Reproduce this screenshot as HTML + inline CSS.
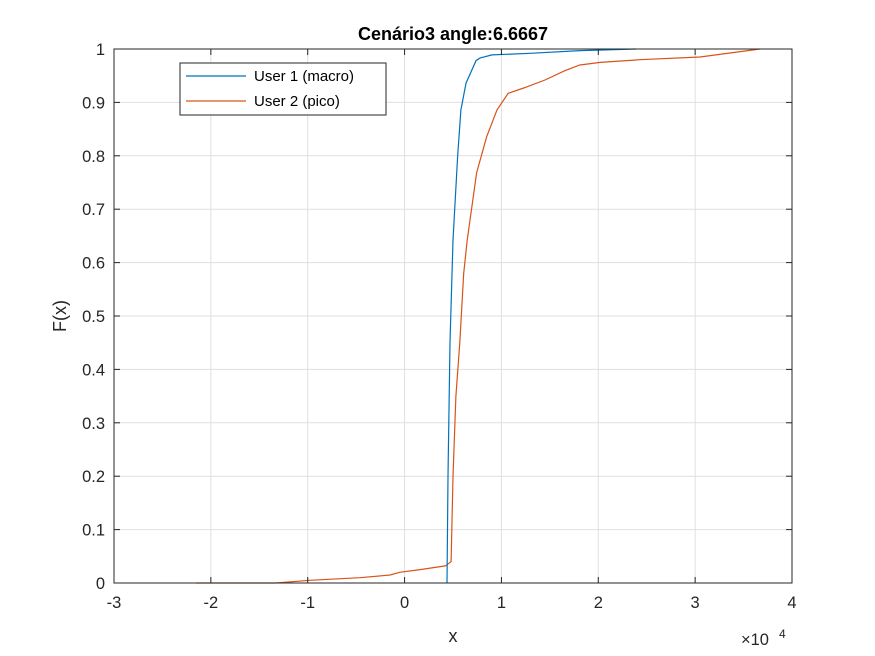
<!DOCTYPE html>
<html><head><meta charset="utf-8"><style>
body{margin:0;background:#fff;}
svg{display:block;font-family:"Liberation Sans",sans-serif;}
</style></head><body>
<svg id="chart" width="875" height="656">
<rect x="0" y="0" width="875" height="656" fill="#fff"/>
<g id="grid"></g>
<g id="series"></g>
<g id="axes"></g>
</svg>
<script>
const xTicks=[-3,-2,-1,0,1,2,3,4];
const yTicks=[0,0.1,0.2,0.3,0.4,0.5,0.6,0.7,0.8,0.9,1];
const user1X=[0.438,0.438,0.448,0.469,0.5,0.547,0.582,0.634,0.737,0.778,0.902,1.3,1.81,2.39];
const user1Y=[0,0,0.2,0.45,0.642,0.798,0.886,0.936,0.978,0.983,0.989,0.992,0.997,1.0];
const user2X=[-2.15,-1.33,-0.98,-0.46,-0.15,-0.05,0.16,0.42,0.46,0.48,0.5,0.53,0.57,0.61,0.647,0.744,0.848,0.954,1.07,1.23,1.45,1.66,1.81,2.02,2.43,3.05,3.67];
const user2Y=[0,0,0.005,0.01,0.015,0.02,0.025,0.032,0.037,0.04,0.2,0.35,0.45,0.58,0.642,0.768,0.836,0.886,0.917,0.927,0.942,0.96,0.97,0.975,0.98,0.985,1.0];
const L=114,R=792,T=49,B=583;
const sx=v=>L+(v+3)/7*(R-L);
const sy=v=>B-v*(B-T);
const NS="http://www.w3.org/2000/svg";
function mk(tag,attrs,parent,text){const e=document.createElementNS(NS,tag);for(const k in attrs)e.setAttribute(k,attrs[k]);if(text!==undefined)e.textContent=text;parent.appendChild(e);return e;}
const grid=document.getElementById('grid'),axes=document.getElementById('axes'),series=document.getElementById('series');
xTicks.forEach(t=>{
 const g=mk('line',{x1:sx(t),x2:sx(t),y1:T,y2:B,stroke:'#dfdfdf','stroke-width':1},grid);
 
 
 mk('line',{x1:sx(t),x2:sx(t),y1:B,y2:B-6,stroke:'#262626'},axes);
 mk('line',{x1:sx(t),x2:sx(t),y1:T,y2:T+6,stroke:'#262626'},axes);
 const l=mk('text',{x:sx(t),y:B+25,'text-anchor':'middle','font-size':16.5,fill:'#262626'},axes,String(t));
 
 
});
yTicks.forEach(t=>{
 const g=mk('line',{x1:L,x2:R,y1:sy(t),y2:sy(t),stroke:'#dfdfdf','stroke-width':1},grid);
 
 
 mk('line',{x1:L,x2:L+6,y1:sy(t),y2:sy(t),stroke:'#262626'},axes);
 mk('line',{x1:R,x2:R-6,y1:sy(t),y2:sy(t),stroke:'#262626'},axes);
 const l=mk('text',{x:L-9,y:sy(t)+6,'text-anchor':'end','font-size':16.5,fill:'#262626'},axes,String(t));
 
 
});
const frame=mk('rect',{x:L,y:T,width:R-L,height:B-T,fill:'none',stroke:'#262626','stroke-width':1},axes);


function line(xs,ys,color,name){
 const pts=xs.map((x,i)=>sx(x).toFixed(1)+','+sy(ys[i]).toFixed(1)).join(' ');
 const p=mk('polyline',{points:pts,fill:'none',stroke:color,'stroke-width':1.2},series);
 
 
}
line(user2X,user2Y,'#d95319','user2-pico-line');
line(user1X,user1Y,'#0072bd','user1-macro-line');
const title=mk('text',{x:453,y:40,'text-anchor':'middle','font-size':18,'font-weight':'bold',fill:'#000'},axes,'Cenário3 angle:6.6667');


const xl=mk('text',{x:453,y:642,'text-anchor':'middle','font-size':18,fill:'#262626'},axes,'x');


const yl=mk('text',{x:0,y:0,'text-anchor':'middle','font-size':18,fill:'#262626',transform:'translate(66,316) rotate(-90)'},axes,'F(x)');


const ex=mk('text',{x:741,y:645,'font-size':16.5,fill:'#262626'},axes,'×10');


mk('text',{x:779,y:638,'font-size':12,fill:'#262626'},axes,'4');
const lg=mk('g',{},axes);


mk('rect',{x:180,y:63,width:206,height:52,fill:'#fff',stroke:'#262626'},lg);
mk('line',{x1:186,x2:246,y1:76,y2:76,stroke:'#0072bd','stroke-width':1.2},lg);
const e1=mk('text',{x:254,y:81,'font-size':15,fill:'#000'},lg,'User 1 (macro)');


mk('line',{x1:186,x2:246,y1:101,y2:101,stroke:'#d95319','stroke-width':1.2},lg);
const e2=mk('text',{x:254,y:106,'font-size':15,fill:'#000'},lg,'User 2 (pico)');


</script>
</body></html>
